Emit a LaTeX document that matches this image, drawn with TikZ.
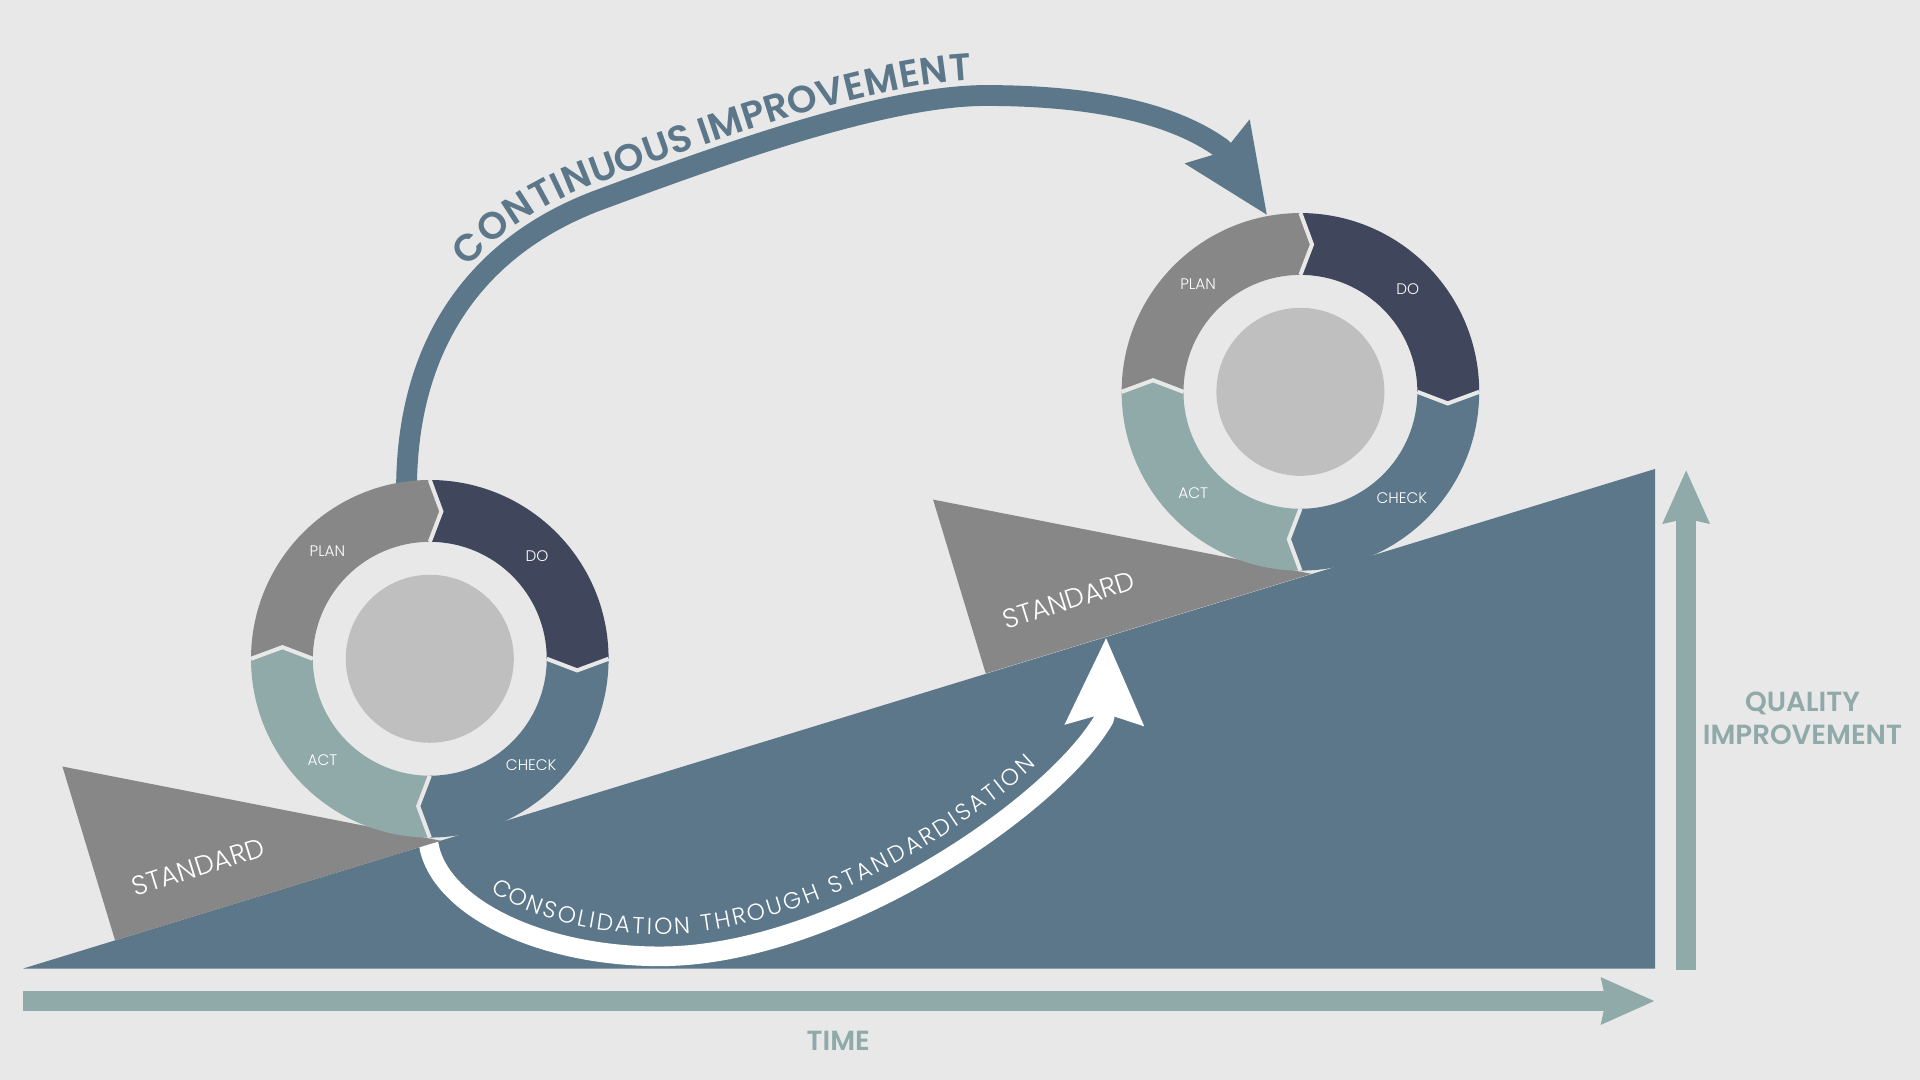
\documentclass[tikz,border=0pt]{standalone}
\usepackage{fontspec}
\setmainfont{Poppins}[BoldFont={Poppins SemiBold}]
\newfontfamily\lightfont{Poppins Light}
\usetikzlibrary{arrows.meta,decorations.text}

\definecolor{bgc}{HTML}{E8E8E8}
\definecolor{rampc}{HTML}{5B7789}
\definecolor{doc}{HTML}{40465B}
\definecolor{planc}{HTML}{878787}
\definecolor{actc}{HTML}{90A9A9}
\definecolor{hubc}{HTML}{BFBFBF}

\newcommand{\cifont}{\fontsize{31}{31}\selectfont\bfseries\color{rampc}}
\newcommand{\csfont}{\lightfont\fontsize{19}{19}\selectfont\color{white}}

\begin{document}
\begin{tikzpicture}[
    x=1pt, y=-1pt,
    improve/.style={draw=rampc, line width=17pt, line join=round,
                    -{Stealth[length=71pt, width=60pt, inset=8pt]}},
    consol/.style={draw=white, line width=16pt, line join=round,
                   -{Stealth[length=70pt, width=61pt, inset=8pt]}},
    growth/.style={draw=actc, line width=16.3pt,
                   -{Stealth[length=43pt, width=36pt, inset=3pt]}},
    joint/.style={draw=bgc, line width=3.3pt, line join=miter},
    hub/.style={circle, fill=hubc, minimum size=137.2pt, inner sep=0pt},
    seglabel/.style={text=white, inner sep=0pt,
                     font=\lightfont\fontsize{12.5}{12.5}\selectfont},
    stdlabel/.style={text=white, inner sep=0pt, rotate=17.5,
                     font=\lightfont\fontsize{22}{22}\selectfont},
    axislabel/.style={text=actc, inner sep=0pt, align=center,
                      font=\fontsize{22.6}{27}\selectfont\bfseries},
  ]

  % canvas
  \useasboundingbox (0,0) rectangle (1568,882);
  \fill[bgc] (0,0) rectangle (1568,882);

  % ramp
  \fill[rampc] (18.8,791) -- (1351.6,383) -- (1351.6,791) -- cycle;

  % axes
  \coordinate (t0) at (18.8,817.5);
  \coordinate (t1) at (1351.6,817.5);
  \coordinate (q0) at (1377,792);
  \coordinate (q1) at (1377,383.5);
  \draw[growth] (t0) -- (t1);
  \draw[growth] (q0) -- (q1);
  \node[axislabel] (time) at (684.6,849.6) {TIME};
  \node[axislabel] (quality) at (1472,586.5) {QUALITY\\IMPROVEMENT};

  % consolidation arrow
  \coordinate (cs0) at (350,689);
  \coordinate (csq) at (902,586.5);
  \coordinate (cs1) at (903.3,520.5);
  \draw[consol] (cs0) .. controls (358,740) and (440,781) .. (539,781)
    .. controls (680,781) and (860,660) .. (csq) -- (cs1);
  \path[decorate, decoration={text along path, raise=18pt,
        text align={fit to path, left indent=70pt, right indent=68pt},
        text={|\csfont|CONSOLIDATION THROUGH STANDARDISATION}}]
    (cs0) .. controls (358,740) and (440,781) .. (539,781)
    .. controls (680,781) and (860,660) .. (csq);

  % continuous improvement arrow
  \coordinate (ci0) at (332,400);
  \coordinate (ciq) at (998,121.4);
  \coordinate (ci1) at (1035,176);
  \draw[improve, postaction={decorate, decoration={text along path,
        raise=13pt, text align={left indent=186pt},
        text={|\cifont|CONTINUOUS IMPROVEMENT}}}]
    (ci0) .. controls (332,280) and (390,200) .. (490,163)
          .. controls (580,129.7) and (720,78) .. (805,78)
          .. controls (885,78) and (955,90) .. (ciq) -- (ci1);

  % standards and PDCA cycles
  \foreach \dx/\dy/\n in {0/0/1, 711/-218/2} {
    \begin{scope}[shift={(\dx,\dy)}]
      \fill[planc] (51,626) -- (94,768) -- (360,686.6) -- cycle;
      \node[stdlabel] (std\n) at (162,708) {STANDARD};
      \begin{scope}[shift={(351,538)}]
        \foreach \s/\col in {180/planc, 270/doc, 0/rampc, 90/actc}
          \fill[\col] (\s:146) arc[start angle=\s, delta angle=90, radius=146]
            -- ({\s+94.5}:120.7) -- ({\s+90}:95.5)
            arc[start angle=\s+90, delta angle=-90, radius=95.5]
            -- ({\s+4.5}:120.7) -- cycle;
        \foreach \s in {0,90,180,270}
          \draw[joint] (\s:146) -- ({\s+4.5}:120.7) -- (\s:95.5);
        \node[hub] (hub\n) at (0,0) {};
        \node[seglabel] (plan\n) at (-83.6,-87.9) {PLAN};
        \node[seglabel] (do\n) at (87.6,-83.5) {DO};
        \node[seglabel] (check\n) at (82.8,86.6) {CHECK};
        \node[seglabel] (act\n) at (-87.6,83) {ACT};
      \end{scope}
    \end{scope}
  }

\end{tikzpicture}
\end{document}
